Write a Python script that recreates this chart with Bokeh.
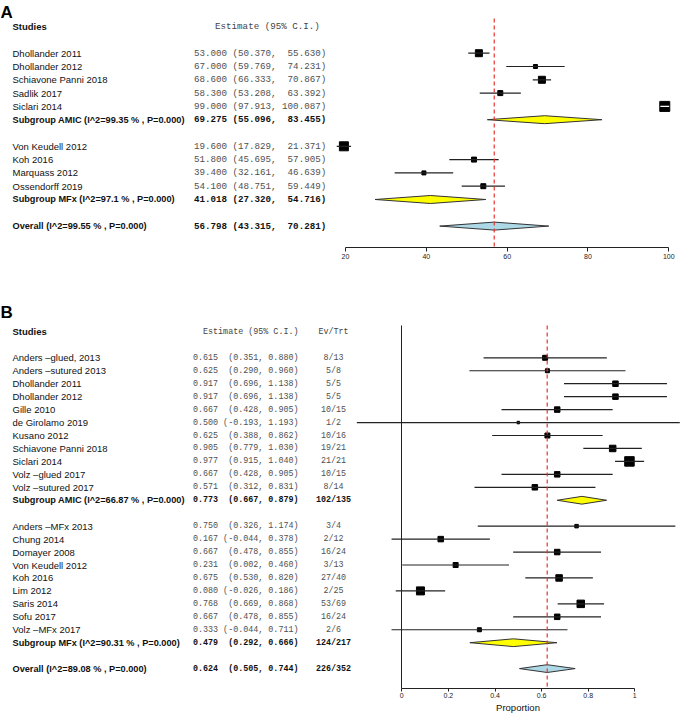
from bokeh.plotting import figure
from bokeh.models import Range1d, LinearAxis, FixedTicker, ColumnDataSource, NumeralTickFormatter
from bokeh.layouts import column
from bokeh.embed import file_html
from bokeh.resources import INLINE
from bokeh.core.properties import value, field

# ---------------- Panel A data ----------------
a_names = ["Dhollander 2011", "Dhollander 2012", "Schiavone Panni 2018", "Sadlik 2017", "Siclari 2014",
           "Subgroup AMIC (I^2=99.35 % , P=0.000)",
           "Von Keudell 2012", "Koh 2016", "Marquass 2012", "Ossendorff 2019",
           "Subgroup MFx (I^2=97.1 % , P=0.000)",
           "Overall (I^2=99.55 % , P=0.000)"]
a_est = [53.000, 67.000, 68.600, 58.300, 99.000, 69.275, 19.600, 51.800, 39.400, 54.100, 41.018, 56.798]
a_lo = [50.370, 59.769, 66.333, 53.208, 97.913, 55.096, 17.829, 45.695, 32.161, 48.751, 27.320, 43.315]
a_hi = [55.630, 74.231, 70.867, 63.392, 100.087, 83.455, 21.371, 57.905, 46.639, 59.449, 54.716, 70.281]
a_kind = ["study"] * 5 + ["subgroup"] + ["study"] * 4 + ["subgroup", "overall"]
a_weight = [7, 4, 7, 5, 10, 0, 9, 5, 4, 5, 0, 0]       # relative study weights (box side)
a_ticks = [20, 40, 60, 80, 100]

# ---------------- Panel B data ----------------
b_names = ["Anders \u2013glued, 2013", "Anders \u2013sutured 2013", "Dhollander 2011", "Dhollander 2012",
           "Gille 2010", "de Girolamo 2019", "Kusano 2012", "Schiavone Panni 2018", "Siclari 2014",
           "Volz \u2013glued 2017", "Volz \u2013sutured 2017",
           "Subgroup AMIC (I^2=66.87 % , P=0.000)",
           "Anders \u2013MFx 2013", "Chung 2014", "Domayer 2008", "Von Keudell 2012", "Koh 2016",
           "Lim 2012", "Saris 2014", "Sofu 2017", "Volz \u2013MFx 2017",
           "Subgroup MFx (I^2=90.31 % , P=0.000)",
           "Overall (I^2=89.08 % , P=0.000)"]
b_est = [0.615, 0.625, 0.917, 0.917, 0.667, 0.500, 0.625, 0.905, 0.977, 0.667, 0.571, 0.773,
         0.750, 0.167, 0.667, 0.231, 0.675, 0.080, 0.768, 0.667, 0.333, 0.479, 0.624]
b_lo = [0.351, 0.290, 0.696, 0.696, 0.428, -0.193, 0.388, 0.779, 0.915, 0.428, 0.312, 0.667,
        0.326, -0.044, 0.478, 0.002, 0.530, -0.026, 0.669, 0.478, -0.044, 0.292, 0.505]
b_hi = [0.880, 0.960, 1.138, 1.138, 0.905, 1.193, 0.862, 1.030, 1.040, 0.905, 0.831, 0.879,
        1.174, 0.378, 0.855, 0.460, 0.820, 0.186, 0.868, 0.855, 0.711, 0.666, 0.744]
b_ev = ["8/13", "5/8", "5/5", "5/5", "10/15", "1/2", "10/16", "19/21", "21/21", "10/15", "8/14", "102/135",
        "3/4", "2/12", "16/24", "3/13", "27/40", "2/25", "53/69", "16/24", "2/6", "124/217", "226/352"]
b_kind = ["study"] * 11 + ["subgroup"] + ["study"] * 9 + ["subgroup", "overall"]
b_weight = [5, 4, 5.5, 5.5, 5.5, 2.5, 5, 6.5, 9.5, 5.5, 5.5, 0,
            3.5, 5.5, 5.5, 5, 6.5, 8, 7.5, 5.5, 4, 0, 0]
b_ticks = [0, 0.2, 0.4, 0.6, 0.8, 1]

W = 680
SANS = "Liberation Sans"
MONO = "Liberation Mono"
NB = "\u00a0"


def rows_for(kinds):
    rows, r = [], 0
    for k in kinds:
        rows.append(r)
        r += 2 if k == "subgroup" else 1
    return rows


def make_panel(names, est, lo, hi, kinds, weight, ci_text, ev, c):
    p = figure(width=W, height=c["h"], x_range=Range1d(*c["xr"]), y_range=Range1d(*c["yr"]),
               x_axis_type=None, y_axis_type=None, output_backend="svg", toolbar_location=None,
               min_border=0, outline_line_color=None,
               background_fill_color="white", border_fill_color="white")
    p.extra_x_ranges = {"px": Range1d(0, W)}
    rows = rows_for(kinds)
    si = [i for i, k in enumerate(kinds) if k == "study"]
    di = [i for i, k in enumerate(kinds) if k != "study"]

    # study boxes
    p.scatter(x=[est[i] for i in si], y=[rows[i] for i in si], size=[weight[i] for i in si],
              marker="square", fill_color="black", line_color="black")
    # confidence intervals (white when hidden inside the box)
    seg_col = ["white" if (hi[i] - lo[i]) * c["ppu"] < weight[i] else "#222222" for i in si]
    p.segment(x0=[lo[i] for i in si], y0=[rows[i] for i in si], x1=[hi[i] for i in si],
              y1=[rows[i] for i in si], line_color=seg_col, line_width=1.2)
    # diamonds
    hh = 0.3
    xs = [[lo[i], est[i], hi[i], est[i]] for i in di]
    ys = [[rows[i], rows[i] - hh, rows[i], rows[i] + hh] for i in di]
    fills = ["#ffff00" if kinds[i] == "subgroup" else "#add8e6" for i in di]
    p.patches(xs=xs, ys=ys, fill_color=fills, line_color="#333333", line_width=1)

    # axis
    ax = LinearAxis(fixed_location=c["axis_k"], bounds=c["bounds"],
                    ticker=FixedTicker(ticks=c["ticks"], minor_ticks=[]),
                    formatter=NumeralTickFormatter(format=c["fmt"]),
                    major_tick_in=0, major_tick_out=c["tick_out"], minor_tick_in=0, minor_tick_out=0,
                    major_label_standoff=2, major_label_text_font=SANS,
                    major_label_text_font_size=c["tick_fs"], major_label_text_color="#222222",
                    axis_line_color="#222222", major_tick_line_color="#222222")
    if c.get("xlabel"):
        ax.axis_label = c["xlabel"]
        ax.axis_label_text_font = SANS
        ax.axis_label_text_font_size = "9.5px"
        ax.axis_label_text_font_style = "normal"
        ax.axis_label_standoff = 0
        ax.axis_label_text_color = "#111111"
    p.add_layout(ax, "below")
    if c.get("vline"):
        yax = LinearAxis(fixed_location=0, bounds=(c["line_top"], c["axis_k"]),
                         ticker=FixedTicker(ticks=[], minor_ticks=[]),
                         major_label_text_font_size="0px", major_tick_line_color=None,
                         minor_tick_line_color=None, axis_line_color="#222222")
        p.add_layout(yax, "left")

    # overall reference line
    ov = est[kinds.index("overall")]
    p.segment(x0=[ov], y0=[c["line_top"]], x1=[ov], y1=[c["axis_k"]],
              line_color="#e8322e", line_dash="4 3", line_width=1.2)

    # panel letter
    p.text(x=[0], y=[c["letter_y"]], text=[c["letter"]], x_range_name="px",
           text_font=value(SANS), text_font_size=value("17px"), text_font_style="bold",
           text_baseline="top", text_align="left", text_color="black")
    # headers
    p.text(x=[12], y=[-2], text=["Studies"], x_range_name="px", text_font=value(SANS),
           text_font_size=value("9.5px"), text_font_style="bold", text_baseline="middle",
           text_color="#111111")
    p.text(x=[c["head_right"]], y=[-2], text=["Estimate" + NB + "(95%" + NB + "C.I.)"], x_range_name="px",
           text_font=value(MONO), text_font_size=value(c["mono_fs"]), text_baseline="middle",
           text_align="right", text_color="#444444")
    if ev is not None:
        p.text(x=[c["ev_x"]], y=[-2], text=["Ev/Trt"], x_range_name="px",
               text_font=value(MONO), text_font_size=value(c["mono_fs"]), text_baseline="middle",
               text_align="center", text_color="#444444")

    bold = [k != "study" for k in kinds]
    src = ColumnDataSource(dict(
        y=rows, name=names, ci=ci_text,
        st=["bold" if b else "normal" for b in bold],
        fs=["9.2px" if b else "9.5px" for b in bold],
        col=["#111111" if b else "#505050" for b in bold],
        ev=ev if ev is not None else [""] * len(names),
        xn=[12] * len(names), xc=[c["est_right"]] * len(names), xe=[c["ev_x"]] * len(names)))
    p.text(x="xn", y="y", text="name", source=src, x_range_name="px", text_font=value(SANS),
           text_font_size=field("fs"), text_font_style=field("st"), text_baseline="middle",
           text_align="left", text_color="#111111")
    p.text(x="xc", y="y", text="ci", source=src, x_range_name="px", text_font=value(MONO),
           text_font_size=value(c["mono_fs"]), text_font_style=field("st"), text_baseline="middle",
           text_align="right", text_color=field("col"))
    if ev is not None:
        p.text(x="xe", y="y", text="ev", source=src, x_range_name="px", text_font=value(MONO),
               text_font_size=value(c["mono_fs"]), text_font_style=field("st"),
               text_baseline="middle", text_align="center", text_color=field("col"))
    return p


a_ci = [f"{e:.3f} ({l:.3f}, {h:7.3f})".replace(" ", NB) for e, l, h in zip(a_est, a_lo, a_hi)]
b_ci = [f"{e:.3f} {'(' + format(l, '.3f') + ',':>8} {h:.3f})".replace(" ", NB)
        for e, l, h in zip(b_est, b_lo, b_hi)]

cfg_a = dict(h=300, xr=(-65.37, 102.89), yr=(18.594, -3.962), axis_k=14.61, line_top=-2.6,
             ppu=4.0414, bounds=(20, 100), ticks=a_ticks, fmt="0", tick_out=4, tick_fs="7px",
             letter="A", letter_y=-3.75, head_right=319.3, est_right=325.7, mono_fs="9.2px", ev_x=0)
cfg_b = dict(h=413, xr=(-1.7223, 1.1961), yr=(27.467, -4.425), axis_k=25.50, line_top=-2.49,
             ppu=233.0, bounds=(0, 1), ticks=b_ticks, fmt="0.[0]", tick_out=3, tick_fs="7px",
             letter="B", letter_y=-4.27, head_right=298, est_right=298, mono_fs="8.4px", ev_x=333,
             xlabel="Proportion", vline=True)

pa = make_panel(a_names, a_est, a_lo, a_hi, a_kind, a_weight, a_ci, None, cfg_a)
pb = make_panel(b_names, b_est, b_lo, b_hi, b_kind, b_weight, b_ci, b_ev, cfg_b)

layout = column(pa, pb, spacing=0)
open("out.html", "w").write(file_html(layout, INLINE))
